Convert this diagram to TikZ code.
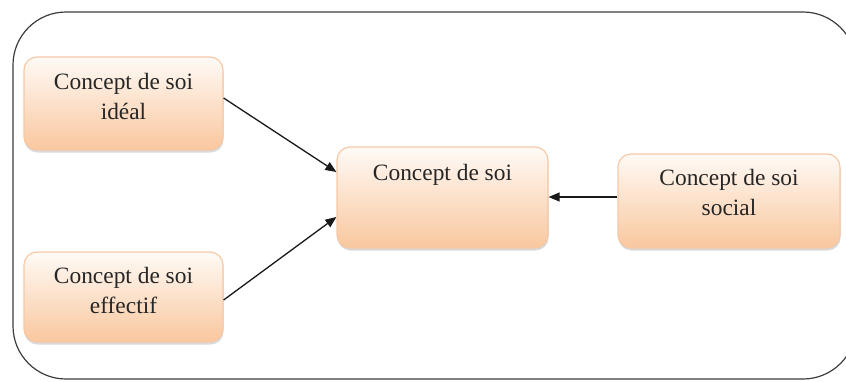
\documentclass[tikz,border=0pt]{standalone}
\usepackage{fontspec}
\setmainfont{Liberation Serif}
\usetikzlibrary{arrows.meta,shadows}
\definecolor{boxtop}{RGB}{255,250,246}
\definecolor{boxbot}{RGB}{249,199,158}
\definecolor{boxline}{RGB}{247,200,165}
\definecolor{frameline}{RGB}{60,60,60}
\tikzset{
  conceptbox/.style={draw=boxline, line width=1.2pt, rounded corners=13pt,
    top color=boxtop, bottom color=boxbot, inner sep=0pt,
    drop shadow={shadow xshift=0.5pt, shadow yshift=-2.5pt, opacity=0.25, fill=black!60}},
  boxtext/.style={font=\fontsize{23.4}{30}\selectfont, align=center, inner sep=0pt, text=black!85},
  link/.style={line width=1.3pt, draw=black!90, -{Triangle[length=11pt,width=9pt]}},
}
\begin{document}
\begin{tikzpicture}[x=1pt,y=-1pt]
\useasboundingbox (0,0) rectangle (846,381);
\draw[frameline, line width=1.2pt, rounded corners=53pt] (13,12) rectangle (856,379);
% boxes
\node[conceptbox, minimum width=199pt, minimum height=93pt] (ideal) at (123.5,103.5) {};
\node[conceptbox, minimum width=211pt, minimum height=101pt] (soi) at (442.5,197.5) {};
\node[conceptbox, minimum width=222pt, minimum height=94pt] (social) at (729,201) {};
\node[conceptbox, minimum width=199pt, minimum height=90pt] (effectif) at (123.5,297) {};
% texts (base = baseline of the last line)
\node[boxtext, anchor=base] (tideal) at (123.5,119) {Concept de soi\\idéal};
\node[boxtext, anchor=base] (tsoi) at (442.5,180) {Concept de soi};
\node[boxtext, anchor=base] (tsocial) at (729,215) {Concept de soi\\social};
\node[boxtext, anchor=base] (teffectif) at (123.5,313) {Concept de soi\\effectif};
% connectors
\draw[link] (ideal.east |- 0,98) -- (soi.west |- 0,172);
\draw[link] (effectif.east |- 0,300) -- (soi.west |- 0,217);
\draw[link] (social.west |- 0,197) -- (soi.east |- 0,197);
\end{tikzpicture}
\end{document}
